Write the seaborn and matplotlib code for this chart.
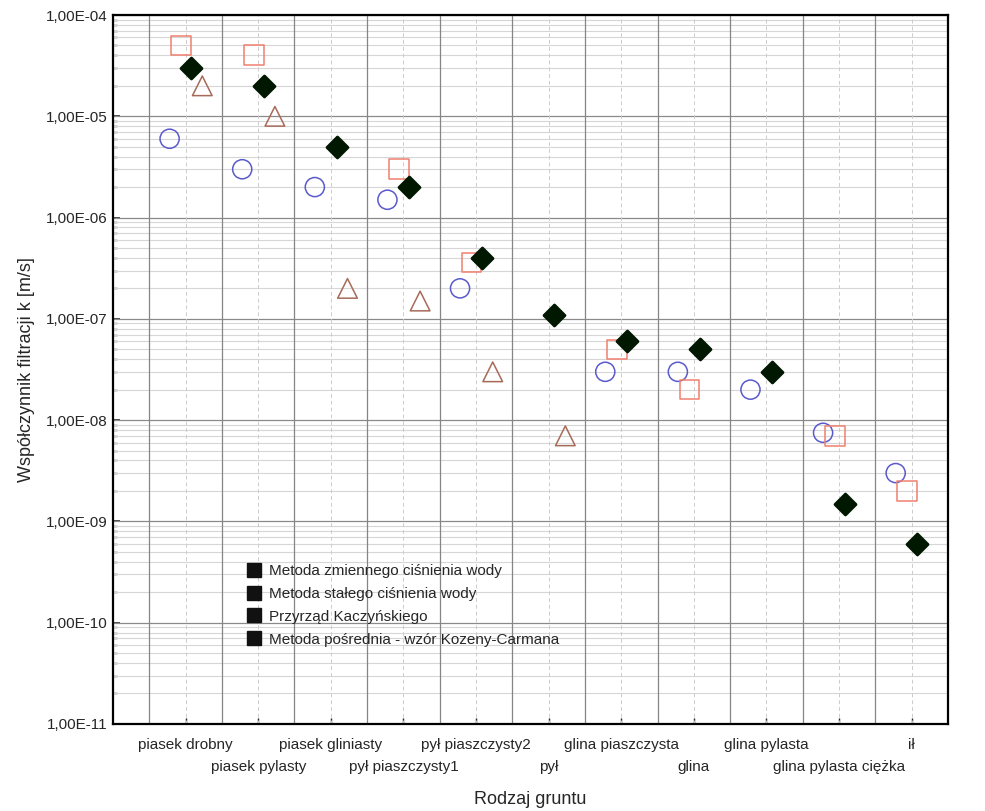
#!/usr/bin/env python

import matplotlib
matplotlib.use("Agg")
import matplotlib.pyplot as plt
from matplotlib.lines import Line2D
from matplotlib.ticker import FixedLocator, FixedFormatter, NullFormatter
import numpy as np
import seaborn as sns


CATEGORIES = ["piasek drobny", "piasek pylasty", "piasek gliniasty", "pył piaszczysty1",
              "pył piaszczysty2", "pył", "glina piaszczysta", "glina", "glina pylasta",
              "glina pylasta ciężka", "ił"]

METHODS = ["Metoda zmiennego ciśnienia wody", "Metoda stałego ciśnienia wody",
           "Przyrząd Kaczyńskiego", "Metoda pośrednia - wzór Kozeny-Carmana"]

# values per category (nan = no measurement)
nan = np.nan
ZMIENNE = [6e-6, 3e-6, 2e-6, 1.5e-6, 2e-7, nan, 3e-8, 3e-8, 2e-8, 7.5e-9, 3e-9]
STALE = [5e-5, 4e-5, nan, 3e-6, 3.6e-7, nan, 5e-8, 2e-8, nan, 7e-9, 2e-9]
KACZYNSKI = [3e-5, 2e-5, 5e-6, 2e-6, 4e-7, 1.1e-7, 6e-8, 5e-8, 3e-8, 1.5e-9, 6e-10]
KOZENY = [2e-5, 1e-5, 2e-7, 1.5e-7, 3e-8, 7e-9, nan, nan, nan, nan, nan]

Y_TICKS = ["1,00E-11", "1,00E-10", "1,00E-09", "1,00E-08", "1,00E-07",
           "1,00E-06", "1,00E-05", "1,00E-04"]

# marker style per series: (values, marker, color, filled, size, x offset)
SERIES = [
    (ZMIENNE, "o", "#5a5acc", False, 190, -0.22),
    (STALE, "s", "#f08070", False, 200, -0.06),
    (KACZYNSKI, "D", "#001800", True, 115, 0.08),
    (KOZENY, "^", "#a86a58", False, 200, 0.23),
]


def plot():
    sns.set_style("ticks")
    plt.rcParams["font.family"] = ["Liberation Sans", "DejaVu Sans"]

    fig = plt.figure(figsize=(9.85, 8.11), dpi=100)
    ax = fig.add_axes([0.1147, 0.1073, 0.8477, 0.8742])

    idx = np.arange(len(CATEGORIES))
    for values, marker, color, filled, size, off in SERIES:
        vals = np.array(values, dtype=float)
        if filled:
            sns.scatterplot(x=idx + off, y=vals, marker=marker, s=size, color=color,
                            edgecolor=color, linewidth=2, ax=ax, zorder=5)
        else:
            sns.scatterplot(x=idx + off, y=vals, marker=marker, s=size,
                            facecolor="none", edgecolor=color, linewidth=1.1,
                            ax=ax, zorder=5)

    ax.set_yscale("log")
    ax.set_ylim(1e-11, 1e-4)
    ax.set_xlim(-1.0, 10.5)

    # grid: decades darker, minors lighter
    for d in range(-11, -3):
        ax.axhline(10.0 ** d, color="#8a8a8a", lw=0.9, zorder=1)
        for k in range(2, 10):
            ax.axhline(k * 10.0 ** d, color="#d6d6d6", lw=0.8, zorder=1)
    for i in idx:
        ax.axvline(i - 0.5, color="#858585", lw=0.9, zorder=1)
        ax.axvline(i, color="#cccccc", lw=0.7, ls=(0, (4, 3)), zorder=1)

    ax.yaxis.set_major_locator(FixedLocator([10.0 ** d for d in range(-11, -3)]))
    ax.yaxis.set_major_formatter(FixedFormatter(Y_TICKS))
    ax.yaxis.set_minor_formatter(NullFormatter())
    ax.tick_params(axis="y", which="major", direction="in", length=5, width=1.2,
                   labelsize=11, pad=4)
    ax.tick_params(axis="y", which="minor", direction="in", length=3, width=1)

    # alternate tick label rows: even categories on top row, odd on second row
    even = idx[::2]
    odd = idx[1::2]
    ax.set_xticks(even, [CATEGORIES[i] for i in even])
    ax.set_xticks(odd, [CATEGORIES[i] for i in odd], minor=True)
    ax.tick_params(axis="x", which="major", direction="in", length=4, width=1,
                   labelsize=11, pad=10)
    ax.tick_params(axis="x", which="minor", direction="in", length=4, width=1,
                   labelsize=11, pad=26)

    for s in ax.spines.values():
        s.set_visible(True)
        s.set_linewidth(1.6)
        s.set_color("black")

    ax.set_ylabel("Współczynnik filtracji k [m/s]", fontsize=13, labelpad=8)
    ax.set_xlabel("Rodzaj gruntu", fontsize=13)
    ax.xaxis.set_label_coords(0.5, -0.095)

    handles = [Line2D([], [], marker="s", ls="none", color="#111111", markersize=10)
               for _ in METHODS]
    ax.legend(handles, METHODS, loc="upper left", bbox_to_anchor=(0.145, 0.245),
              frameon=False, fontsize=11, handlelength=0.8, handletextpad=0.6,
              labelspacing=0.58)

    fig.savefig("out.png", dpi=100)
    plt.close(fig)


if __name__ == "__main__":
    plot()
